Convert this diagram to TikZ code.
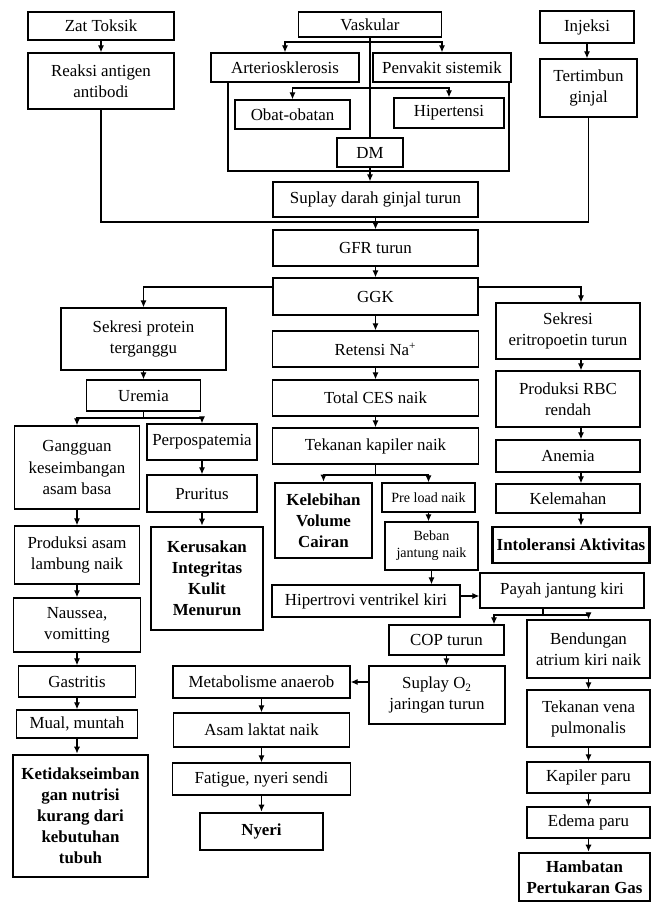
\documentclass[tikz,border=0pt]{standalone}
\usepackage{fontspec}
\setmainfont{Liberation Serif}
\usetikzlibrary{arrows.meta}

\tikzset{
  box/.style={draw,line width=1pt,align=center,inner sep=2pt,font=\fontsize{12}{15}\selectfont},
  tbox/.style={box,line width=2pt,font=\fontsize{12}{15}\selectfont\bfseries},
  wh/.style 2 args={minimum width=#1*0.025cm,minimum height=#2*0.025cm},
}

\begin{document}
\begin{tikzpicture}[x=0.025cm,y=-0.025cm,line width=0.9pt,>={Latex[length=5pt,width=4.5pt]}]
  \useasboundingbox (0,0) rectangle (652,904);

  % top causes
  \node (zat) at (101,26) [box,wh={146}{28}]{Zat Toksik};
  \node (reaksi) at (101,81) [box,wh={146}{56}]{Reaksi antigen\\antibodi};
  \node (vask) at (370,24.5) [box,wh={143}{25}]{Vaskular};
  \node (injeksi) at (587,27) [box,wh={94}{32}]{Injeksi};
  \node (tertimbun) at (588.5,88) [box,wh={97}{58}]{Tertimbun\\ginjal};
  \node (arterio) at (285,67.5) [box,wh={148}{29}]{Arteriosklerosis};
  \node (penyakit) at (442,67.5) [box,wh={138}{29}]{Penvakit sistemik};
  \node (obat) at (292.5,114.5) [box,wh={115}{29}]{Obat-obatan};
  \node (hiper) at (449,113) [box,wh={110}{30}]{Hipertensi};
  \node (dm) at (370,152.5) [box,wh={66}{29}]{DM};
  \node (suplay) at (375.5,199.5) [box,wh={205}{35}]{Suplay darah ginjal turun};
  \node (gfr) at (375.5,248) [box,wh={205}{36}]{GFR turun};
  \node (ggk) at (375.5,296.5) [box,wh={205}{37}]{GGK};

  % three branches
  \node (sekP) at (143.5,339) [box,wh={165}{62}]{Sekresi protein\\terganggu};
  \node (retensi) at (375.5,349) [box,wh={206}{36}]{Retensi Na\textsuperscript{+}};
  \node (sekE) at (568,331) [box,wh={144}{56}]{Sekresi\\eritropoetin turun};
  \node (uremia) at (143.5,395.5) [box,wh={114}{31}]{Uremia};
  \node (ces) at (375.5,398) [box,wh={206}{36}]{Total CES naik};
  \node (rbc) at (568,399) [box,wh={144}{56}]{Produksi RBC\\rendah};
  \node (gangguan) at (77,467.5) [box,wh={125}{83}]{Gangguan\\keseimbangan\\asam basa};
  \node (perpos) at (202,442) [box,wh={110}{36}]{Perpospatemia};
  \node (tkap) at (375.5,446) [box,wh={206}{36}]{Tekanan kapiler naik};
  \node (anemia) at (568,456) [box,wh={144}{32}]{Anemia};
  \node (pruritus) at (202,493.5) [box,wh={110}{37}]{Pruritus};
  \node (kelebihan) at (323.5,520.5) [tbox,wh={97}{75}]{Kelebihan\\Volume\\Cairan};
  \node (preload) at (428.5,497.5) [box,wh={93}{29},font=\fontsize{10}{12}\selectfont]{Pre load naik};
  \node (kelemahan) at (568,498.5) [box,wh={144}{29}]{Kelemahan};
  \node (produksiA) at (77,555) [box,wh={125}{58}]{Produksi asam\\lambung naik};
  \node (kerusakan) at (207,578.5) [tbox,wh={112}{103}]{Kerusakan\\Integritas\\Kulit\\Menurun};
  \node (beban) at (431.5,546) [box,wh={93}{48},font=\fontsize{10}{12}\selectfont]{Beban\\jantung naik};
  \node (intol) at (571,545) [tbox,wh={157}{36}]{Intoleransi Aktivitas};
  \node (hipertrovi) at (366,601) [box,wh={188}{32}]{Hipertrovi ventrikel kiri};
  \node (payah) at (562,590.5) [box,wh={164}{35}]{Payah jantung kiri};
  \node (naussea) at (77,625) [box,wh={127}{54}]{Naussea,\\vomitting};
  \node (cop) at (446.5,640) [box,wh={115}{30}]{COP turun};
  \node (bendungan) at (588.5,649) [box,wh={123}{58}]{Bendungan\\atrium kiri naik};
  \node (gastritis) at (77,681.5) [box,wh={117}{31}]{Gastritis};
  \node (metab) at (261.5,682) [box,wh={177}{32}]{Metabolisme anaerob};
  \node (suplayO) at (437,695) [box,wh={136}{58}]{Suplay O\textsubscript{2}\\jaringan turun};
  \node (mual) at (77,724) [box,wh={121}{28}]{Mual, muntah};
  \node (laktat) at (261.5,730) [box,wh={176}{34}]{Asam laktat naik};
  \node (tvena) at (588.5,718.5) [box,wh={123}{57}]{Tekanan vena\\pulmonalis};
  \node (fatigue) at (261.5,779) [box,wh={178}{32}]{Fatigue, nyeri sendi};
  \node (ketidak) at (80.5,816) [tbox,wh={135}{122}]{Ketidakseimban\\gan nutrisi\\kurang dari\\kebutuhan\\tubuh};
  \node (kapiler) at (588.5,777.5) [box,wh={123}{31}]{Kapiler paru};
  \node (nyeri) at (261.5,831.5) [tbox,wh={123}{37}]{Nyeri};
  \node (edema) at (588.5,822.5) [box,wh={123}{31}]{Edema paru};
  \node (hambatan) at (584.5,877) [tbox,wh={131}{48}]{Hambatan\\Pertukaran Gas};

  % junctions
  \coordinate (b1) at (370,42);
  \coordinate (b2) at (370,88);
  \coordinate (aL) at (228,171);
  \coordinate (pR) at (509,171);
  \coordinate (m1) at (370,171);
  \coordinate (m2) at (375.5,222);
  \coordinate (colE) at (581,0);
  \coordinate (u1) at (143.5,418);
  \coordinate (t1) at (375.5,475);
  \coordinate (hp) at (0,596);
  \coordinate (p1) at (543,615);
  \coordinate (copx) at (494,0);

  \draw[->] (zat) -- (reaksi);
  \draw[->] (injeksi) -- (injeksi |- tertimbun.north);
  \draw (vask) -- (dm);
  \draw[->] (b1) -| (arterio);
  \draw[->] (b1) -| (penyakit);
  \draw[->] (b2) -| (obat);
  \draw[->] (b2) -| (hiper);
  \draw (arterio.south -| aL) -- (aL) -- (m1);
  \draw (penyakit.south -| pR) -- (pR) -- (m1);
  \draw[->] (dm) -- (dm |- suplay.north);
  \draw (reaksi) |- (m2);
  \draw (tertimbun) |- (m2);
  \draw[->] (suplay) -- (gfr);
  \draw[->] (gfr) -- (ggk);

  \draw[->] ([yshift=0.24cm]ggk.west) -| (sekP);
  \draw[->] ([yshift=0.24cm]ggk.east) -| (sekE.north -| colE);
  \draw[->] (ggk) -- (retensi);
  \draw[->] (retensi) -- (ces);
  \draw[->] (ces) -- (tkap);

  % left
  \draw[->] (sekP) -- (uremia);
  \draw (uremia) -- (u1);
  \draw[->] (u1) -| (gangguan);
  \draw[->] (u1) -| (perpos);
  \draw[->] (gangguan) -- (produksiA);
  \draw[->] (produksiA) -- (naussea);
  \draw[->] (naussea) -- (gastritis);
  \draw[->] (gastritis) -- (mual);
  \draw[->] (mual) -- (mual |- ketidak.north);
  \draw[->] (perpos) -- (pruritus);
  \draw[->] (pruritus) -- (pruritus |- kerusakan.north);

  % middle
  \draw (tkap) -- (t1);
  \draw[->] (t1) -| (kelebihan);
  \draw[->] (t1) -| (preload);
  \draw[->] (preload) -- (preload |- beban.north);
  \draw[->] (beban) -- (beban |- hipertrovi.north);
  \draw[->] (hipertrovi.east |- hp) -- (payah.west |- hp);
  \draw (payah.south -| p1) -- (p1);
  \draw[->] (p1) -| (cop.north -| copx);
  \draw[->] (p1) -| (bendungan);
  \draw[->] (cop) -- (cop |- suplayO.north);
  \draw[->] (suplayO.west |- metab) -- (metab);
  \draw[->] (metab) -- (laktat);
  \draw[->] (laktat) -- (fatigue);
  \draw[->] (fatigue) -- (nyeri);

  % right
  \draw[->] (sekE.south -| colE) -- (rbc.north -| colE);
  \draw[->] (rbc.south -| colE) -- (anemia.north -| colE);
  \draw[->] (anemia.south -| colE) -- (kelemahan.north -| colE);
  \draw[->] (kelemahan.south -| colE) -- (intol.north -| colE);
  \draw[->] (bendungan) -- (tvena);
  \draw[->] (tvena) -- (kapiler);
  \draw[->] (kapiler) -- (edema);
  \draw[->] (edema) -- (edema |- hambatan.north);

\end{tikzpicture}
\end{document}
